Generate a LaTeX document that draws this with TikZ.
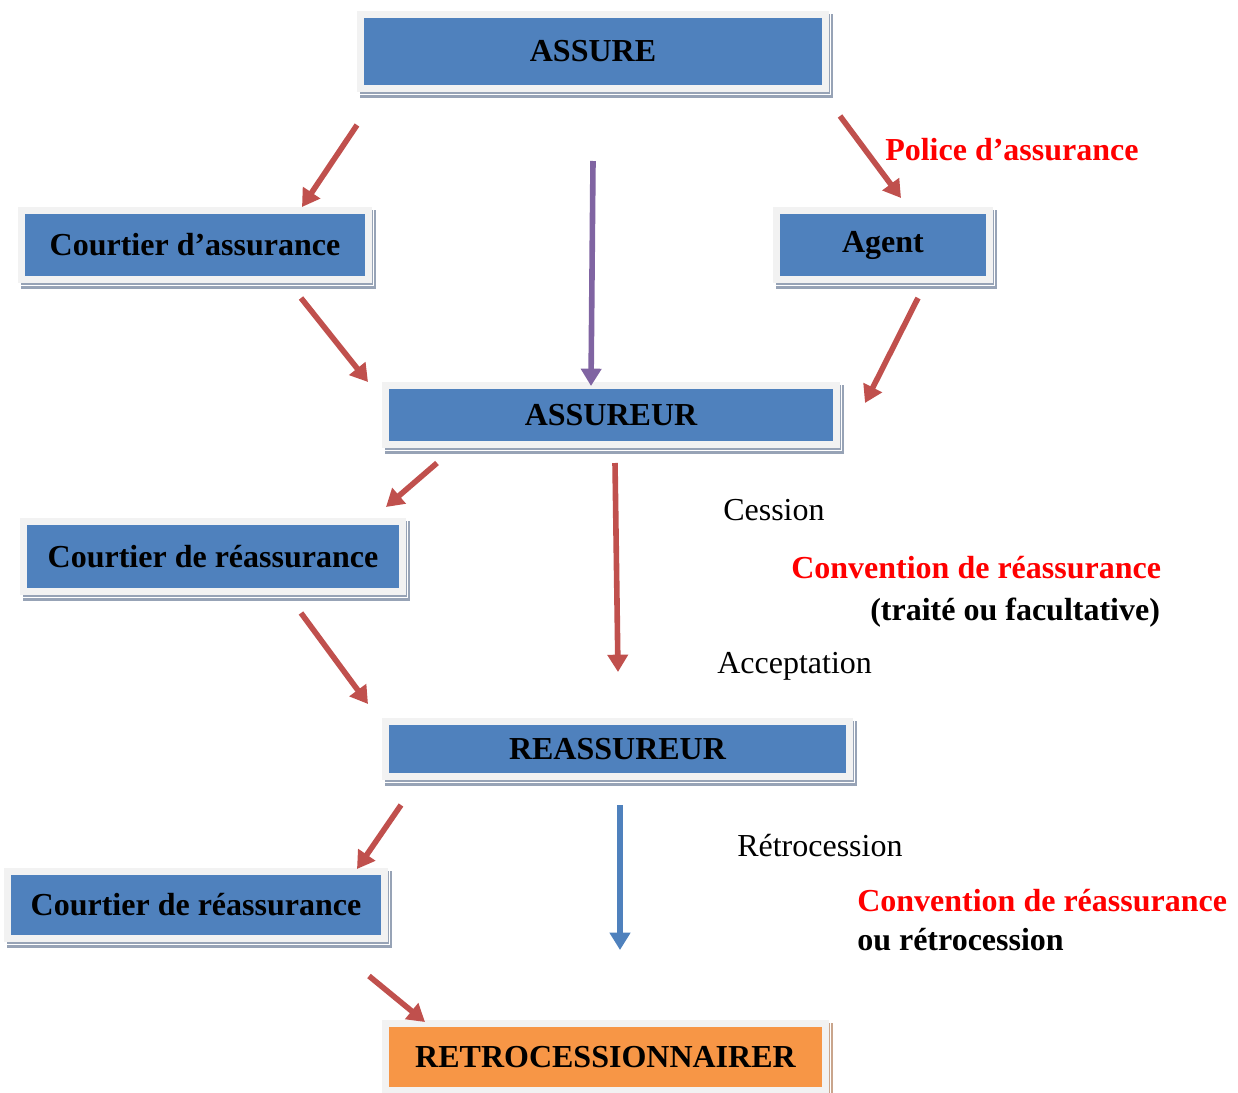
\documentclass[tikz,border=0pt]{standalone}
\usepackage{fontspec}
\setmainfont{Liberation Serif}
\usetikzlibrary{arrows.meta,calc,backgrounds}

\definecolor{boxblue}{HTML}{4F81BD}
\definecolor{boxorange}{HTML}{F79646}
\definecolor{boxframe}{HTML}{F2F2F2}
\definecolor{shadeblue}{HTML}{97A3B6}
\definecolor{shadeorange}{HTML}{C9A58C}
\definecolor{arrowred}{HTML}{C0504D}
\definecolor{arrowpurple}{HTML}{8064A2}
\definecolor{labelred}{HTML}{FF0000}

\tikzset{
  x=0.75pt, y=-0.75pt,
  boxtext/.style={font=\fontsize{24}{28}\selectfont\bfseries, inner sep=0pt, text=black},
  bluebox/.style={boxtext, fill=boxblue},
  orangebox/.style={boxtext, fill=boxorange},
  flow/.style={line width=4.2pt, arrowred,
    -{Triangle[length=13pt,width=15pt]}},
  plainlabel/.style={font=\fontsize{24}{28}\selectfont, anchor=base west, inner sep=0pt},
  boldlabel/.style={plainlabel, font=\fontsize{24}{28}\selectfont\bfseries},
}

% #1 name, #2-#5 inner corners (left, top, right, bottom), #6 style, #7 shadow colour, #8 text
\newcommand\flowbox[8]{%
  \node[#6, minimum width={(#4-#2)*0.75pt}, minimum height={(#5-#3)*0.75pt}]
    (#1) at ({(#2+#4)/2},{(#3+#5)/2}) {#8};
  \begin{scope}[on background layer]
    \fill[#7] ($(#1.north west)+(-4,-4)$) rectangle ($(#1.south east)+(11,13)$);
    \draw[white, line width=0.6pt] ($(#1.north west)+(-7,-7)$) rectangle ($(#1.south east)+(8,9)$);
    \fill[boxframe] ($(#1.north west)+(-7,-7)$) rectangle ($(#1.south east)+(7,7)$);
  \end{scope}}

\begin{document}
\begin{tikzpicture}
\useasboundingbox (0,0) rectangle (1238,1092);

% boxes
\flowbox{assure}{364}{18}{822}{85}{bluebox}{shadeblue}{ASSURE}
\flowbox{cassur}{25}{214}{365}{276}{bluebox}{shadeblue}{Courtier d’assurance}
\flowbox{agent}{780}{214}{986}{276}{bluebox}{shadeblue}{Agent}
\flowbox{assureur}{389}{389}{833}{441}{bluebox}{shadeblue}{ASSUREUR}
\flowbox{creassA}{27}{525}{399}{588}{bluebox}{shadeblue}{Courtier de réassurance}
\flowbox{reassureur}{389}{725}{846}{773}{bluebox}{shadeblue}{REASSUREUR}
\flowbox{creassB}{11}{875}{381}{935}{bluebox}{shadeblue}{Courtier de réassurance}
\flowbox{retro}{389}{1027}{822}{1087}{orangebox}{shadeorange}{RETROCESSIONNAIRER}

% arrow end points
\coordinate (a1s) at (357,125);  \coordinate (a1e) at (302,207);
\coordinate (a2s) at (593,161);  \coordinate (a2e) at (591,386);
\coordinate (a3s) at (840,116);  \coordinate (a3e) at (901,198);
\coordinate (a4s) at (301,298);  \coordinate (a4e) at (368,382);
\coordinate (a5s) at (918,298);  \coordinate (a5e) at (865,403);
\coordinate (a6s) at (437,463);  \coordinate (a6e) at (386,507);
\coordinate (a7s) at (615,463);  \coordinate (a7e) at (618,672);
\coordinate (a8s) at (301,613);  \coordinate (a8e) at (368,704);
\coordinate (a9s) at (401,805);  \coordinate (a9e) at (357,869);
\coordinate (a10s) at (620,805); \coordinate (a10e) at (620,950);
\coordinate (a11s) at (369,976); \coordinate (a11e) at (425,1022);

% arrows
\draw[flow] (a1s) -- (a1e);
\draw[flow, arrowpurple] (a2s) -- (a2e);
\draw[flow] (a3s) -- (a3e);
\draw[flow] (a4s) -- (a4e);
\draw[flow] (a5s) -- (a5e);
\draw[flow] (a6s) -- (a6e);
\draw[flow] (a7s) -- (a7e);
\draw[flow] (a8s) -- (a8e);
\draw[flow] (a9s) -- (a9e);
\draw[flow, boxblue] (a10s) -- (a10e);
\draw[flow] (a11s) -- (a11e);

% labels
\node[boldlabel, text=labelred] (police) at (885,160) {Police d’assurance};
\node[plainlabel] (cession) at (723,520) {Cession};
\node[boldlabel, text=labelred] (convA) at (791,578) {Convention de réassurance};
\node[boldlabel] (traite) at (870,620) {(traité ou facultative)};
\node[plainlabel] (accept) at (717,673) {Acceptation};
\node[plainlabel] (retrocession) at (737,856) {Rétrocession};
\node[boldlabel, text=labelred] (convB) at (857,911) {Convention de réassurance};
\node[boldlabel] (ouretro) at (857,950) {ou rétrocession};
\end{tikzpicture}
\end{document}
